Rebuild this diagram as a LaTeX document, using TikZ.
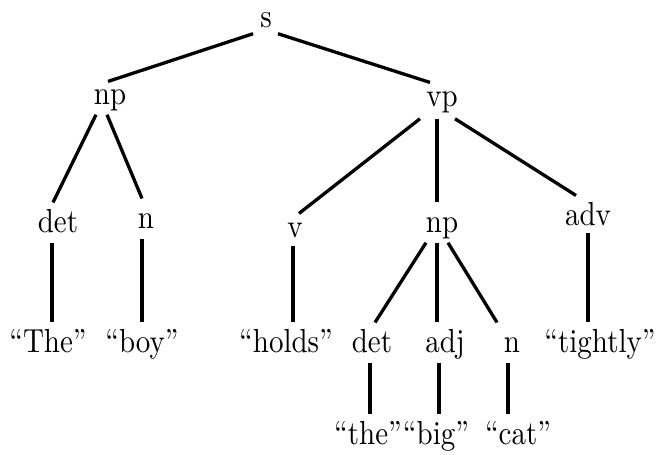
\documentclass[tikz,border=0pt]{standalone}
\usetikzlibrary{calc}
\newcommand{\tallword}[1]{\scalebox{1}[1.15]{#1}}

\begin{document}
\begin{tikzpicture}[x=0.345pt, y=-0.345pt,
    cat/.style={anchor=base, inner sep=3pt, text height=7pt, text depth=0.5pt},
    branch/.style={line width=0.4mm, -}]
      \useasboundingbox (0,0) rectangle (658,454);

      % categories
      \node[cat] (s) at (266,27) {\tallword{s}};
      \node[cat] (np) at (110,104) {\tallword{np}};
      \node[cat] (vp) at (442,106) {\tallword{vp}};
      \node[cat] (det) at (58,232) {\tallword{det}};
      \node[cat] (n) at (146,228) {\tallword{n}};
      \node[cat] (v) at (295,237) {\tallword{v}};
      \node[cat] (np2) at (442,232) {\tallword{np}};
      \node[cat] (adv) at (588,225) {\tallword{adv}};
      \node[cat] (det2) at (372,352) {\tallword{det}};
      \node[cat] (adj) at (445,352) {\tallword{adj}};
      \node[cat] (n2) at (512,352) {\tallword{n}};

      % words
      \node[cat] (the) at (48,352) {\tallword{``The''}};
      \node[cat] (boy) at (142,352) {\tallword{``boy''}};
      \node[cat] (holds) at (286,352) {\tallword{``holds''}};
      \node[cat] (tightly) at (600,352) {\tallword{``tightly''}};
      \node[cat] (the2) at (368,444) {\tallword{``the''}};
      \node[cat] (big) at (436,444) {\tallword{``big''}};
      \node[cat] (catw) at (518,444) {\tallword{``cat''}};

      \draw[branch] ($(s.south)+(-13,-4)$) -- ($(np.north)+(-2,7)$);
      \draw[branch] ($(s.south)+(12,-4)$) -- ($(vp.north)+(-12,6)$);
      \draw[branch] ($(np.south)+(-14,0)$) -- ($(det.north)+(-5,0)$);
      \draw[branch] ($(np.south)+(-3,0)$) -- ($(n.north)+(-4,0)$);
      \draw[branch] ($(vp.south)+(-22,2)$) -- ($(v.north)+(4,6)$);
      \draw[branch] ($(vp.south)+(-5,2)$) -- ($(np2.north)+(-5,0)$);
      \draw[branch] ($(vp.south)+(13,2)$) -- ($(adv.north)+(-12,0)$);
      \draw[branch] ($(det.south)+(-6,0)$) -- ($(the.north)+(4,0)$);
      \draw[branch] ($(n.south)+(-4,0)$) -- (boy.north);
      \draw[branch] ($(v.south)+(-2,-2)$) -- ($(holds.north)+(7,0)$);
      \draw[branch] ($(np2.south)+(-16,0)$) -- ($(det2.north)+(3,0)$);
      \draw[branch] ($(np2.south)+(-5,0)$) -- ($(adj.north)+(-8,0)$);
      \draw[branch] ($(np2.south)+(6,0)$) -- ($(n2.north)+(-15,0)$);
      \draw[branch] ($(adv.south)+(0,-3)$) -- ($(tightly.north)+(-12,0)$);
      \draw[branch] ($(det2.south)+(-2,0)$) -- ($(the2.north)+(2,0)$);
      \draw[branch] ($(adj.south)+(-6,0)$) -- ($(big.north)+(3,0)$);
      \draw[branch] ($(n2.south)+(-4,0)$) -- ($(catw.north)+(-10,0)$);
\end{tikzpicture}
\end{document}
